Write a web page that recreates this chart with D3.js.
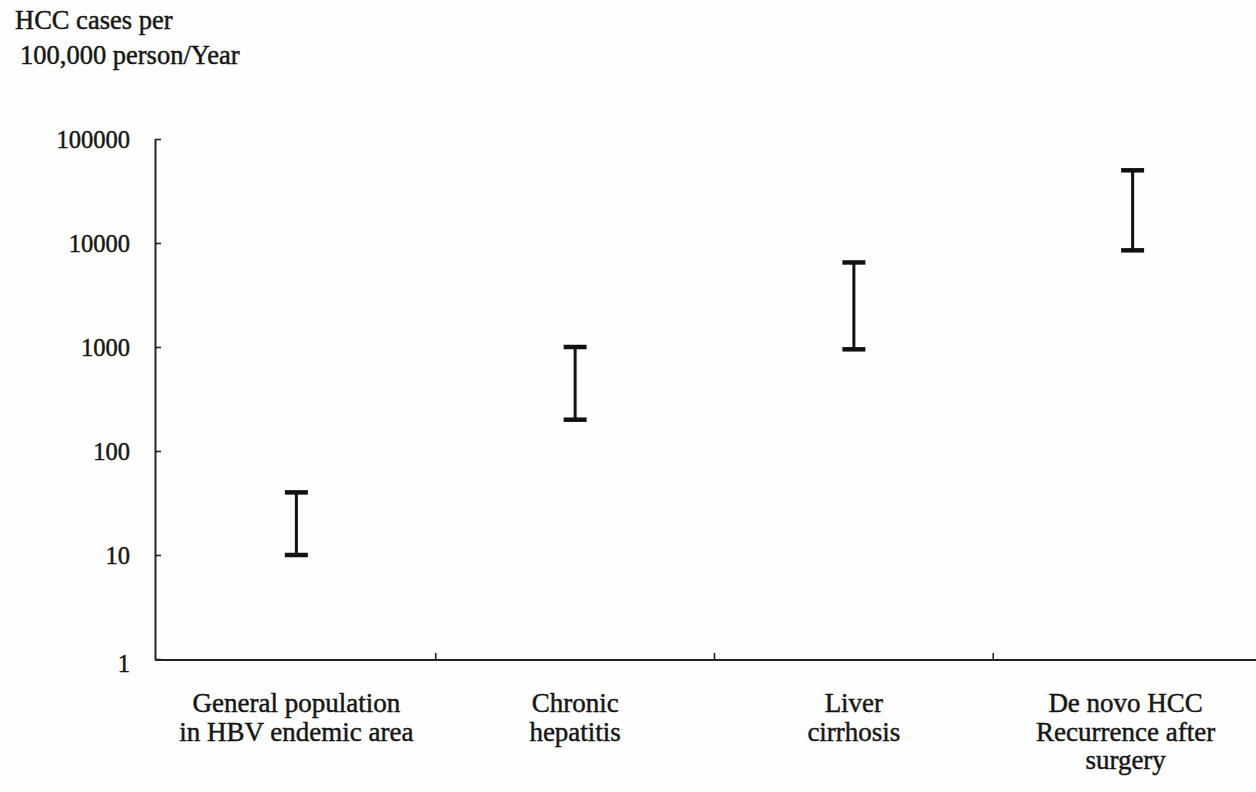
<!DOCTYPE html>
<html>
<head>
<meta charset="utf-8">
<script src="https://cdn.jsdelivr.net/npm/d3@7/dist/d3.min.js"></script>
<style>
  html, body { margin: 0; padding: 0; background: #fefefd; }
  svg { display: block; }
  text { font-family: "Liberation Serif", "Times New Roman", serif; fill: #151515; stroke: #151515; stroke-width: 0.45px; }
</style>
</head>
<body>
<svg id="chart" width="1256" height="792"></svg>
<script>
// HCC incidence ranges (cases per 100,000 person-years)
const categories = [
  ["General population", "in HBV endemic area"],
  ["Chronic", "hepatitis"],
  ["Liver", "cirrhosis"],
  ["De novo HCC", "Recurrence after", "surgery"]
];
const lowValues  = [10, 200, 950, 8500];
const highValues = [40, 1000, 6500, 50000];
const yTickValues = [1, 10, 100, 1000, 10000, 100000];
const yTickLabels = ["1", "10", "100", "1000", "10000", "100000"];
const titleLines = ["HCC cases per", "100,000 person/Year"];

const svg = d3.select("#chart");
const plotLeft = 155, plotTop = 139, plotBottom = 659;

const x = d3.scaleBand()
  .domain(d3.range(categories.length))
  .range([157, 1272])
  .padding(0);

const y = d3.scaleLog()
  .domain([1, 100000])
  .range([plotBottom, plotTop]);

// y axis: line with inward ticks
const yAxis = d3.axisLeft(y)
  .tickValues(yTickValues)
  .tickFormat((d, i) => yTickLabels[i])
  .tickSizeInner(-6)
  .tickSizeOuter(0)
  .tickPadding(25);

const gy = svg.append("g")
  .attr("transform", `translate(${plotLeft},0)`)
  .call(yAxis);
gy.select(".domain").attr("stroke", "#222").attr("stroke-width", 2);
gy.selectAll(".tick line").attr("stroke", "#222").attr("stroke-width", 1.6);
gy.selectAll(".tick text")
  .attr("font-size", 24.5)
  .attr("font-family", "Liberation Serif, serif")
  .attr("fill", "#151515")
  .attr("dy", (d) => d === 1 ? "0.5em" : "0.34em");

// x axis: baseline with inward separator ticks between categories
const xAxisLine = svg.append("g");
xAxisLine.append("line")
  .attr("x1", plotLeft).attr("x2", 1256)
  .attr("y1", plotBottom + 1).attr("y2", plotBottom + 1)
  .attr("stroke", "#222").attr("stroke-width", 2);
xAxisLine.selectAll("line.sep")
  .data(d3.range(1, categories.length))
  .join("line")
  .attr("class", "sep")
  .attr("x1", d => x(d)).attr("x2", d => x(d))
  .attr("y1", plotBottom + 1).attr("y2", plotBottom - 6)
  .attr("stroke", "#222").attr("stroke-width", 1.6);

// category labels
const labels = svg.append("g");
categories.forEach((lines, i) => {
  const cx = x(i) + x.bandwidth() / 2 - (i === 3 ? 7 : 0);
  const t = labels.append("text")
    .attr("text-anchor", "middle")
    .attr("font-size", 27);
  lines.forEach((ln, j) => {
    t.append("tspan")
      .attr("x", cx)
      .attr("y", 712 + j * 28.5)
      .text(ln);
  });
});

// range bars
const bars = svg.append("g");
const capW = 23;
categories.forEach((c, i) => {
  const cx = x(i) + x.bandwidth() / 2;
  const g = bars.append("g");
  g.append("line")
    .attr("x1", cx).attr("x2", cx)
    .attr("y1", y(lowValues[i])).attr("y2", y(highValues[i]))
    .attr("stroke", "#111").attr("stroke-width", 3);
  [lowValues[i], highValues[i]].forEach(v => {
    g.append("line")
      .attr("x1", cx - capW / 2).attr("x2", cx + capW / 2)
      .attr("y1", y(v)).attr("y2", y(v))
      .attr("stroke", "#111").attr("stroke-width", 4.5);
  });
});

// y axis title
const title = svg.append("text").attr("font-size", 26.5);
title.append("tspan").attr("x", 15).attr("y", 29).text(titleLines[0]);
title.append("tspan").attr("x", 20).attr("y", 64).text(titleLines[1]);
</script>
</body>
</html>
